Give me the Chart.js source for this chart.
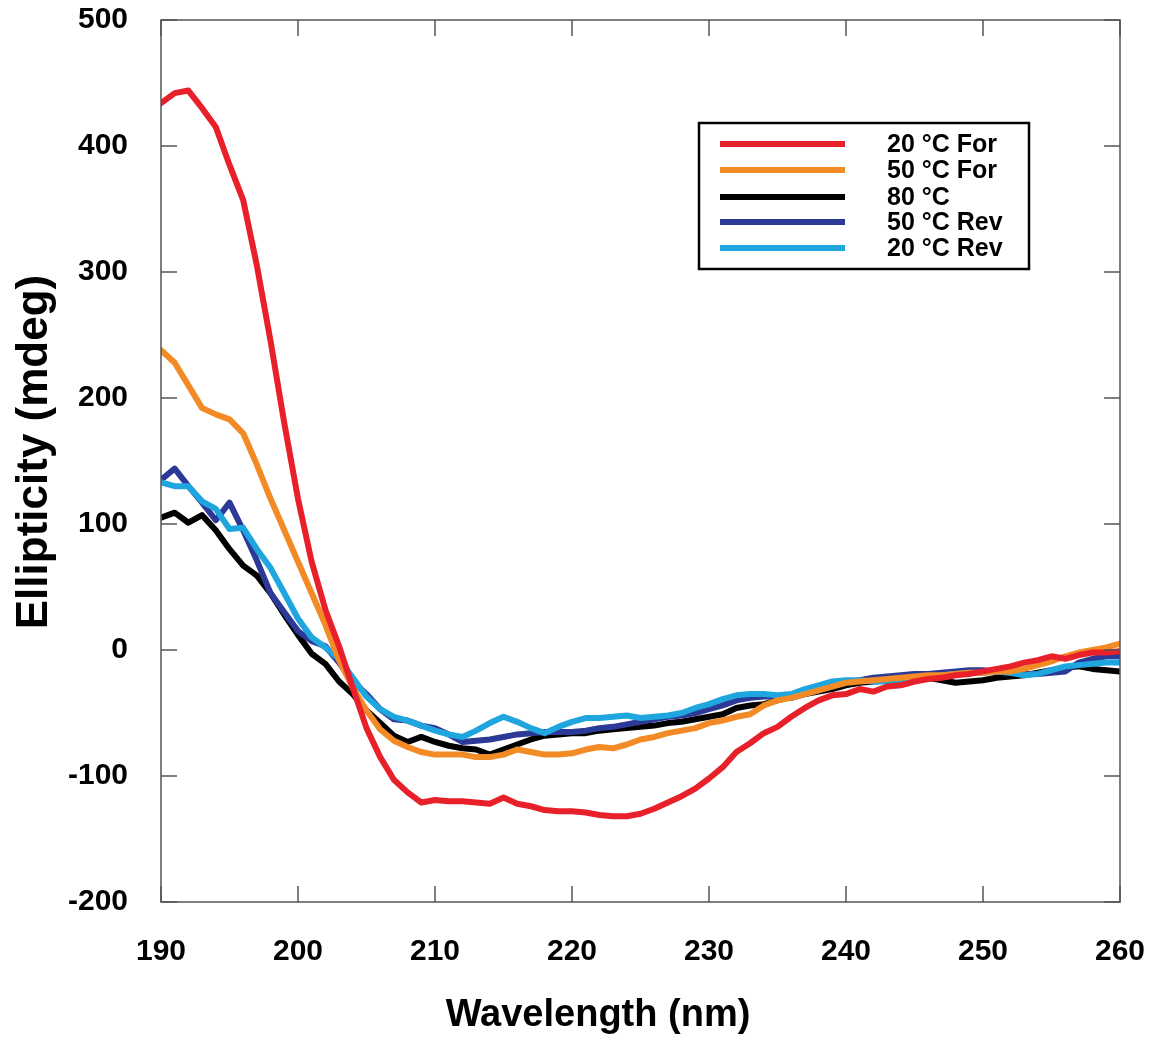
<!DOCTYPE html>
<html>
<head>
<meta charset="utf-8">
<script src="https://cdn.jsdelivr.net/npm/chart.js@4.4.1/dist/chart.umd.min.js"></script>
<style>
  body { margin: 0; background: #fff; }
  #wrap { width: 1153px; height: 1040px; }
</style>
</head>
<body>
<div id="wrap"><canvas id="cdChart" width="1153" height="1040"></canvas></div>
<script>
// wavelength, nm (1 nm steps)
const wavelengths = [];
for (let w = 190; w <= 260; w++) wavelengths.push(w);

// ellipticity (mdeg)
const for20 = [434, 442, 444, 430, 415, 385, 357, 305, 245, 180,
  120, 70, 32, 3, -30, -62, -85, -103, -113, -121,
  -119, -120, -120, -121, -122, -117, -122, -124, -127, -128,
  -128, -129, -131, -132, -132, -130, -126, -121, -116, -110,
  -102, -93, -81, -74, -66, -61, -53, -46, -40, -36,
  -35, -31, -33, -29, -28, -25, -23, -22, -20, -19,
  -17, -15, -13, -10, -8, -5, -7, -4, -2, -2, -1];
const for50 = [238, 228, 210, 192, 187, 183, 172, 147, 120, 95,
  70, 45, 20, -8, -30, -48, -63, -72, -77, -81,
  -83, -83, -83, -85, -85, -83, -79, -81, -83, -83,
  -82, -79, -77, -78, -75, -71, -69, -66, -64, -62,
  -58, -56, -53, -51, -44, -40, -38, -35, -32, -29,
  -26, -25, -24, -23, -22, -21, -20, -20, -19, -18,
  -18, -17, -17, -15, -12, -9, -5, -2, 0, 2, 5];
const at80 = [105, 109, 101, 107, 95, 80, 67, 59, 45, 28,
  12, -3, -11, -25, -35, -48, -58, -68, -73, -69,
  -73, -76, -78, -79, -83, -79, -75, -71, -68, -67,
  -66, -66, -64, -63, -62, -61, -60, -58, -57, -55,
  -53, -51, -46, -44, -43, -40, -37, -35, -33, -31,
  -28, -26, -25, -24, -23, -22, -22, -24, -26, -25,
  -24, -22, -21, -20, -18, -16, -14, -13, -15, -16, -17];
const rev50 = [135, 144, 130, 117, 103, 117, 95, 71, 45, 30,
  15, 7, 3, -10, -25, -35, -47, -55, -56, -60,
  -62, -67, -73, -72, -71, -69, -67, -66, -65, -65,
  -65, -64, -62, -61, -59, -57, -55, -53, -52, -50,
  -47, -44, -40, -38, -37, -37, -38, -35, -32, -28,
  -26, -24, -22, -21, -20, -19, -19, -18, -17, -16,
  -16, -17, -18, -19, -19, -18, -17, -10, -7, -5, -5];
const rev20 = [133, 130, 130, 118, 112, 96, 97, 80, 65, 45,
  25, 10, 2, -7, -22, -37, -47, -53, -56, -60,
  -64, -67, -69, -64, -58, -53, -57, -62, -66, -61,
  -57, -54, -54, -53, -52, -54, -53, -52, -50, -46,
  -43, -39, -36, -35, -35, -36, -35, -31, -28, -25,
  -24, -24, -25, -25, -24, -22, -21, -20, -19, -18,
  -18, -17, -18, -20, -19, -16, -13, -12, -11, -10, -10];

const seriesNames = ['20 °C For', '50 °C For', '80 °C', '50 °C Rev', '20 °C Rev'];
const seriesColors = ['#e8202a', '#f28b26', '#000000', '#2d3996', '#1fa6df'];
const seriesData = [for20, for50, at80, rev50, rev20];
const drawOrder = [0, 1, 4, 3, 2];

const xTicks = [190, 200, 210, 220, 230, 240, 250, 260];
const yTicks = [-200, -100, 0, 100, 200, 300, 400, 500];

const FONT = '"Liberation Sans", Arial, sans-serif';

const datasets = seriesData.map((vals, i) => ({
  label: seriesNames[i],
  data: vals.map((v, k) => ({ x: wavelengths[k], y: v })),
  borderColor: seriesColors[i],
  backgroundColor: seriesColors[i],
  borderWidth: 6,
  pointRadius: 0,
  tension: 0,
  order: drawOrder[i],
  borderJoinStyle: 'round',
  borderCapStyle: 'round'
}));

// frame + inward ticks on all four sides
const framePlugin = {
  id: 'frame',
  afterDatasetsDraw(chart) {
    const { ctx, chartArea: a, scales } = chart;
    const len = 16;
    ctx.save();
    ctx.strokeStyle = '#555';
    ctx.lineWidth = 1.5;
    ctx.strokeRect(a.left, a.top, a.right - a.left, a.bottom - a.top);
    ctx.beginPath();
    xTicks.forEach(t => {
      const px = scales.x.getPixelForValue(t);
      ctx.moveTo(px, a.bottom); ctx.lineTo(px, a.bottom - len);
      ctx.moveTo(px, a.top); ctx.lineTo(px, a.top + len);
    });
    yTicks.forEach(t => {
      const py = scales.y.getPixelForValue(t);
      ctx.moveTo(a.left, py); ctx.lineTo(a.left + len, py);
      ctx.moveTo(a.right, py); ctx.lineTo(a.right - len, py);
    });
    ctx.stroke();
    ctx.restore();
  },
  afterDraw(chart) {
    const { ctx } = chart;
    ctx.save();
    ctx.fillStyle = '#000';
    ctx.textAlign = 'center';
    ctx.textBaseline = 'middle';
    ctx.font = 'bold 38px ' + FONT;
    ctx.fillText('Wavelength (nm)', 598, 1016);
    ctx.translate(35, 452);
    ctx.rotate(-Math.PI / 2);
    ctx.font = 'bold 44px ' + FONT;
    ctx.fillText('Ellipticity (mdeg)', 0, 0);
    ctx.restore();
  }
};

// boxed legend in the upper right
const boxLegend = {
  id: 'boxLegend',
  afterDraw(chart) {
    const { ctx } = chart;
    const rows = [144, 170, 197, 222, 248];
    ctx.save();
    ctx.fillStyle = '#fff';
    ctx.fillRect(699, 123, 330, 146);
    ctx.strokeStyle = '#000';
    ctx.lineWidth = 2.5;
    ctx.strokeRect(699, 123, 330, 146);
    ctx.font = 'bold 25px ' + FONT;
    ctx.textBaseline = 'middle';
    chart.data.datasets.forEach((ds, i) => {
      ctx.strokeStyle = ds.borderColor;
      ctx.lineWidth = 6;
      ctx.beginPath();
      ctx.moveTo(720, rows[i]);
      ctx.lineTo(845, rows[i]);
      ctx.stroke();
      ctx.fillStyle = '#000';
      ctx.fillText(ds.label, 887, rows[i] + 1);
    });
    ctx.restore();
  }
};

// drop the automatic label overhang so layout.padding sets the plot edges
function noOverhang(s) {
  s.paddingTop = 0; s.paddingBottom = 0;
  s.paddingLeft = 0; s.paddingRight = 0;
}

new Chart(document.getElementById('cdChart'), {
  type: 'line',
  data: { datasets },
  options: {
    responsive: false,
    animation: false,
    layout: { padding: { left: 0, right: 33, top: 20, bottom: 0 } },
    plugins: { legend: { display: false }, tooltip: { enabled: false } },
    scales: {
      x: {
        type: 'linear',
        min: 190,
        max: 260,
        grid: { display: false },
        border: { display: false },
        afterBuildTicks: s => { s.ticks = xTicks.map(v => ({ value: v })); },
        afterFit: s => { s.height = 138; noOverhang(s); },
        ticks: { color: '#000', padding: 24, font: { family: FONT, size: 30, weight: 'bold' } }
      },
      y: {
        min: -200,
        max: 500,
        grid: { display: false },
        border: { display: false },
        afterBuildTicks: s => { s.ticks = yTicks.map(v => ({ value: v })); },
        afterFit: s => { s.width = 161; noOverhang(s); },
        ticks: { color: '#000', padding: 25, font: { family: FONT, size: 30, weight: 'bold' } }
      }
    }
  },
  plugins: [framePlugin, boxLegend]
});
</script>
</body>
</html>
